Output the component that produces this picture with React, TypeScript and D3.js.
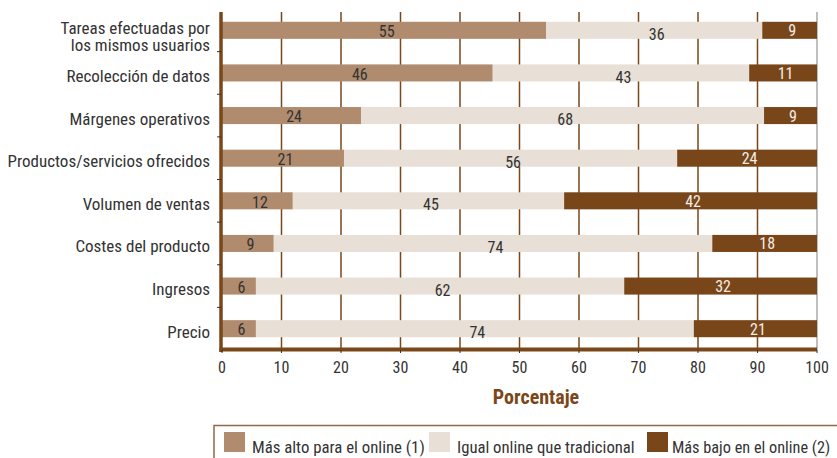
import React from "react";
import * as d3 from "d3";

const categories = [
  ["Tareas efectuadas por", "los mismos usuarios"],
  ["Recolección de datos"],
  ["Márgenes operativos"],
  ["Productos/servicios ofrecidos"],
  ["Volumen de ventas"],
  ["Costes del producto"],
  ["Ingresos"],
  ["Precio"],
];

const seriesNames = [
  "Más alto para el online (1)",
  "Igual online que tradicional",
  "Más bajo en el online (2)",
];

// bar lengths as drawn (percent)
const higherValues = [54.5, 45.5, 23.4, 20.5, 11.9, 8.7, 5.7, 5.7];
const equalValues = [36.3, 43.1, 67.7, 56.0, 45.6, 73.7, 61.9, 73.6];
const lowerValues = [9.2, 11.4, 8.9, 23.5, 42.5, 17.6, 32.4, 20.7];

// printed labels
const higherLabels = [55, 46, 24, 21, 12, 9, 6, 6];
const equalLabels = [36, 43, 68, 56, 45, 74, 62, 74];
const lowerLabels = [9, 11, 9, 24, 42, 18, 32, 21];

const xTicks = [0, 10, 20, 30, 40, 50, 60, 70, 80, 90, 100];
const xTitle = "Porcentaje";

const W = 837;
const H = 458;
const COLORS = ["#b08b6d", "#e8dfd7", "#79461a"];
const BROWN = "#7a4719";
const FONT = "'Liberation Sans Narrow', 'Roboto Condensed', 'DejaVu Sans Condensed', 'Liberation Sans', sans-serif";

export default function App() {
  const x = d3.scaleLinear().domain([0, 100]).range([222, 817]);
  const keys = categories.map((_, i) => String(i));
  const y = d3.scaleBand().domain(keys).range([9, 350]).paddingInner(0.6).paddingOuter(0.3);
  const step = y.step();
  const bw = y.bandwidth();

  const rows = categories.map((c, i) => ({
    key: String(i),
    values: [higherValues[i], equalValues[i], lowerValues[i]],
    labels: [higherLabels[i], equalLabels[i], lowerLabels[i]],
  }));
  const stack = d3.stack<any>().keys(["0", "1", "2"]).value((d, k) => d.values[+k]);
  const stacked = stack(rows);

  const labelDy = [6.8, 9.6, 6];
  const labelColor = ["#333", "#333", "#f3ede6"];

  const legendX = [224, 429, 647];

  return (
    <svg width={W} height={H} style={{ position: "absolute", left: 0, top: 0, background: "#fff" }} fontFamily={FONT}>
      {/* gridlines */}
      {xTicks.filter(t => t > 0).map(t => (
        <line key={"g" + t} x1={x(t)} x2={x(t)} y1={12} y2={350}
          stroke={t === 100 ? "#aaa" : BROWN} strokeWidth={1.5} />
      ))}
      {/* bars */}
      {stacked.map((s, si) => s.map((d, i) => (
        <rect key={`b${si}-${i}`} x={x(d[0])} y={y(rows[i].key)} width={x(d[1]) - x(d[0])} height={bw} fill={COLORS[si]} />
      )))}
      {/* value labels */}
      {stacked.map((s, si) => s.map((d, i) => (
        <text key={`l${si}-${i}`} x={(x(d[0]) + x(d[1])) / 2 + 2.5} y={(y(rows[i].key) as number) + bw / 2 + labelDy[si]}
          textAnchor="middle" fontSize={16} fill={labelColor[si]}>{rows[i].labels[si]}</text>
      )))}
      {/* left axis */}
      <line x1={221} x2={221} y1={12} y2={352} stroke={BROWN} strokeWidth={3.5} />
      {d3.range(1, categories.length).map(i => {
        const yy = 9 + step * 0.3 - (step - bw) / 2 + step * i;
        return <line key={"lt" + i} x1={217} x2={221} y1={yy} y2={yy} stroke="#333" strokeWidth={1} />;
      })}
      {/* bottom axis */}
      <line x1={219.5} x2={817} y1={349.5} y2={349.5} stroke={BROWN} strokeWidth={4} />
      {xTicks.map(t => (
        <line key={"bt" + t} x1={x(t)} x2={x(t)} y1={350} y2={353} stroke="#333" strokeWidth={1} />
      ))}
      {xTicks.map(t => (
        <text key={"tl" + t} x={x(t)} y={373} textAnchor="middle" fontSize={16} fill="#333">{t}</text>
      ))}
      <text x={536} y={403.5} textAnchor="middle" fontSize={20} fontWeight="bold" fill={BROWN}>{xTitle}</text>
      {/* category labels */}
      {categories.map((c, i) => {
        const cy = (y(String(i)) as number) + bw / 2;
        const multi = c.length > 1;
        return (
          <text key={"c" + i} x={210} y={multi ? cy + 3.2 : cy + 9} textAnchor="end" fontSize={17} fill="#333">
            {c.map((line, li) => (
              <tspan key={li} x={210} dy={li === 0 ? 0 : 17.4}>{line}</tspan>
            ))}
          </text>
        );
      })}
      {/* legend */}
      <path d={`M214,${H + 2} V425.5 H${W + 2}`} fill="none" stroke="#8e6a4c" strokeWidth={1.5} />
      {seriesNames.map((n, i) => (
        <g key={"lg" + i} transform={`translate(${legendX[i]},0)`}>
          <rect x={0} y={432} width={21} height={20} fill={COLORS[i]} />
          <text x={i === 2 ? 25 : 28} y={452.5} fontSize={[16.8, 16.7, 16.3][i]} fill="#333">{n}</text>
        </g>
      ))}
    </svg>
  );
}
